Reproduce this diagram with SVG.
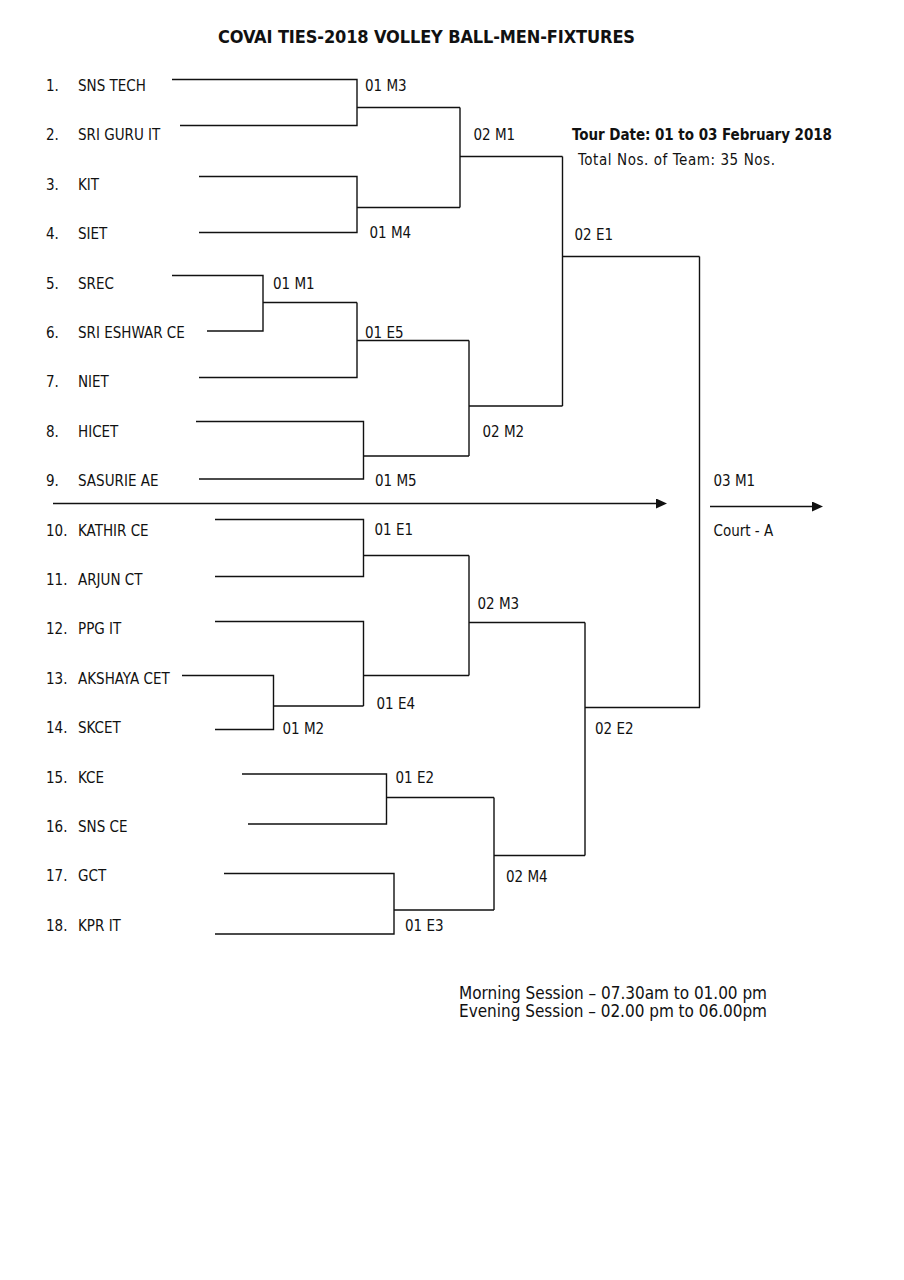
<svg xmlns="http://www.w3.org/2000/svg" width="904" height="1280" viewBox="0 0 904 1280">
<defs>
<style>
text{font-family:"DejaVu Sans Condensed","DejaVu Sans",sans-serif;font-size:15px;fill:#111;font-stretch:condensed}
.b{font-weight:bold}
.t{font-size:18px;font-weight:bold}
.s{font-size:17px}
.ln{fill:none;stroke:#111;stroke-width:1.4}
</style>
<marker id="ah" viewBox="0 0 11 10" refX="0" refY="5" markerWidth="11" markerHeight="10" markerUnits="userSpaceOnUse" orient="auto">
<path d="M0,0 L11,5 L0,10 Z" fill="#111"/>
</marker>
</defs>
<rect width="904" height="1280" fill="#fff"/>
<g id="title"><text class="t" x="218" y="43" textLength="417">COVAI TIES-2018 VOLLEY BALL-MEN-FIXTURES</text></g>
<g id="info">
<text class="b" x="572" y="140" textLength="260">Tour Date: 01 to 03 February 2018</text>
<text x="578" y="165" textLength="197">Total Nos. of Team: 35 Nos.</text>
</g>
<g id="connectors">
<path class="ln" d="M172,79.5 H357 V125.5 H180 M357,107.5 H460"/>
<path class="ln" d="M199,176.5 H357 V232.5 H199 M357,207.5 H460"/>
<path class="ln" d="M172,275.5 H263 V331 H207 M263,302.5 H357"/>
<path class="ln" d="M357,302.5 V377.5 H199 M357,340.5 H469"/>
<path class="ln" d="M196,421.5 H363.5 V479 H199 M363.5,456 H469"/>
<path class="ln" d="M460,107.5 V207.5 M460,156.5 H562.5"/>
<path class="ln" d="M469,340.5 V456 M469,406 H562.5"/>
<path class="ln" d="M562.5,156.5 V406 M562.5,256.5 H699.5"/>
<path class="ln" d="M215,519.5 H363.5 V576.5 H215 M363.5,555.5 H469"/>
<path class="ln" d="M182,675.5 H273.5 V729.5 H215 M273.5,706 H363.5"/>
<path class="ln" d="M215,621.5 H363.5 V706 M363.5,675.5 H469"/>
<path class="ln" d="M469,555.5 V675.5 M469,622.5 H585"/>
<path class="ln" d="M242,774 H386.5 V824 H248 M386.5,797.5 H494"/>
<path class="ln" d="M224,873.5 H394 V934 H215 M394,910 H494"/>
<path class="ln" d="M494,797.5 V910 M494,855.5 H585"/>
<path class="ln" d="M585,622.5 V855.5 M585,707.5 H700"/>
<path class="ln" d="M699.5,256.5 V707.5"/>
<path class="ln" d="M53,503.5 H656" marker-end="url(#ah)"/>
<path class="ln" d="M710,506.5 H812" marker-end="url(#ah)"/>
</g>
<g id="teams">
<g id="team1"><text x="46" y="91">1.</text><text x="78" y="91">SNS TECH</text></g>
<g id="team2"><text x="46" y="140.4">2.</text><text x="78" y="140.4">SRI GURU IT</text></g>
<g id="team3"><text x="46" y="189.8">3.</text><text x="78" y="189.8">KIT</text></g>
<g id="team4"><text x="46" y="239.2">4.</text><text x="78" y="239.2">SIET</text></g>
<g id="team5"><text x="46" y="288.6">5.</text><text x="78" y="288.6">SREC</text></g>
<g id="team6"><text x="46" y="338">6.</text><text x="78" y="338">SRI ESHWAR CE</text></g>
<g id="team7"><text x="46" y="387.4">7.</text><text x="78" y="387.4">NIET</text></g>
<g id="team8"><text x="46" y="436.8">8.</text><text x="78" y="436.8">HICET</text></g>
<g id="team9"><text x="46" y="486.2">9.</text><text x="78" y="486.2">SASURIE AE</text></g>
<g id="team10"><text x="46" y="535.6">10.</text><text x="78" y="535.6">KATHIR CE</text></g>
<g id="team11"><text x="46" y="585">11.</text><text x="78" y="585">ARJUN CT</text></g>
<g id="team12"><text x="46" y="634.4">12.</text><text x="78" y="634.4">PPG IT</text></g>
<g id="team13"><text x="46" y="683.8">13.</text><text x="78" y="683.8">AKSHAYA CET</text></g>
<g id="team14"><text x="46" y="733.2">14.</text><text x="78" y="733.2">SKCET</text></g>
<g id="team15"><text x="46" y="782.6">15.</text><text x="78" y="782.6">KCE</text></g>
<g id="team16"><text x="46" y="832">16.</text><text x="78" y="832">SNS CE</text></g>
<g id="team17"><text x="46" y="881.4">17.</text><text x="78" y="881.4">GCT</text></g>
<g id="team18"><text x="46" y="930.8">18.</text><text x="78" y="930.8">KPR IT</text></g>
</g>
<g id="matches">
<g id="m01M3"><text x="365" y="90.5">01 M3</text></g>
<g id="m01M4"><text x="369.5" y="238">01 M4</text></g>
<g id="m02M1"><text x="473.5" y="140">02 M1</text></g>
<g id="m02E1"><text x="574.5" y="239.5">02 E1</text></g>
<g id="m01M1"><text x="273" y="288.5">01 M1</text></g>
<g id="m01E5"><text x="365" y="337.5">01 E5</text></g>
<g id="m02M2"><text x="482.5" y="437">02 M2</text></g>
<g id="m01M5"><text x="375" y="486">01 M5</text></g>
<g id="m03M1"><text x="713.5" y="486">03 M1</text><text x="713.5" y="535.5">Court - A</text></g>
<g id="m01E1"><text x="374.5" y="535">01 E1</text></g>
<g id="m02M3"><text x="477.5" y="608.5">02 M3</text></g>
<g id="m01E4"><text x="376.5" y="708.5">01 E4</text></g>
<g id="m01M2"><text x="282.5" y="734">01 M2</text></g>
<g id="m02E2"><text x="595" y="733.5">02 E2</text></g>
<g id="m01E2"><text x="395.5" y="782.5">01 E2</text></g>
<g id="m02M4"><text x="506" y="882">02 M4</text></g>
<g id="m01E3"><text x="405" y="931">01 E3</text></g>
</g>
<g id="sessions">
<text class="s" x="459" y="998.5" textLength="308">Morning Session – 07.30am to 01.00 pm</text>
<text class="s" x="459" y="1017" textLength="308">Evening Session – 02.00 pm to 06.00pm</text>
</g>
</svg>
